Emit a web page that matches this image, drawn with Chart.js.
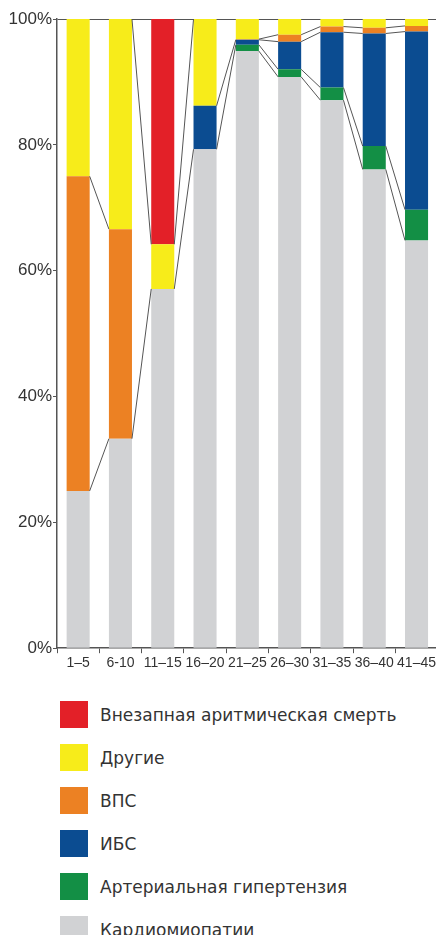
<!DOCTYPE html>
<html>
<head>
<meta charset="utf-8">
<script src="https://cdn.jsdelivr.net/npm/chart.js@4.4.1/dist/chart.umd.min.js"></script>
<style>
  body { margin: 0; background: #fff; overflow: hidden; font-family: "Liberation Sans", sans-serif; }
  #wrap { position: relative; width: 438px; height: 674px; }
  #legend { margin-top: 27px; }
  .row { display: flex; align-items: center; height: 27px; margin-bottom: 16px; }
  .sw { width: 28px; height: 27px; margin-left: 60px; margin-right: 12px; }
  .lb { font-family: "DejaVu Sans", sans-serif; font-size: 17px; color: #333; }
</style>
</head>
<body>
<div id="wrap"><canvas id="chart"></canvas></div>
<div id="legend"></div>
<script>
// age groups
const categories = ['1–5', '6-10', '11–15', '16–20', '21–25', '26–30', '31–35', '36–40', '41–45'];

// share of causes, %, bottom to top
const cardiomyopathy = [25, 33.3, 57.1, 79.3, 94.9, 90.8, 87.1, 76.1, 64.8];
const hypertension   = [0, 0, 0, 0, 1.0, 1.2, 2.0, 3.7, 4.9];
const ibs            = [0, 0, 0, 6.9, 0.8, 4.4, 8.8, 17.9, 28.3];
const vps            = [50, 33.3, 0, 0, 0.1, 1.1, 0.9, 0.9, 0.9];
const other          = [25, 33.4, 7.1, 13.8, 3.2, 2.5, 1.2, 1.4, 1.1];
const sudden         = [0, 0, 35.8, 0, 0, 0, 0, 0, 0];

const yTicks = [0, 20, 40, 60, 80, 100];

// which stack boundaries get a connector between neighbouring bars
// (k = top of the k-th series from the bottom)
const connectors = [[1, 4], [1, 5], [1, 5], [2, 3], [1, 2, 3, 4], [1, 2, 3, 4], [1, 2, 3, 4], [1, 2, 3, 4]];

const series = [
    { label: 'Кардиомиопатии', data: cardiomyopathy, color: '#d1d2d4' },
    { label: 'Артериальная гипертензия', data: hypertension, color: '#138f45' },
    { label: 'ИБС', data: ibs, color: '#0b4c91' },
    { label: 'ВПС', data: vps, color: '#ec8123' },
    { label: 'Другие', data: other, color: '#f7ec1a' },
    { label: 'Внезапная аритмическая смерть', data: sudden, color: '#e32028' }
];

const connectorPlugin = {
    id: 'connectors',
    afterDatasetsDraw(chart) {
        const ctx = chart.ctx;
        const y = chart.scales.y;
        const bars = chart.getDatasetMeta(0).data;
        ctx.save();
        ctx.strokeStyle = '#555';
        ctx.lineWidth = 1;
        connectors.forEach((ks, i) => {
            const a = bars[i], b = bars[i + 1];
            ks.forEach(k => {
                let c1 = 0, c2 = 0;
                for (let s = 0; s < k; s++) {
                    c1 += series[s].data[i];
                    c2 += series[s].data[i + 1];
                }
                ctx.beginPath();
                ctx.moveTo(a.x + a.width / 2, y.getPixelForValue(c1));
                ctx.lineTo(b.x - b.width / 2, y.getPixelForValue(c2));
                ctx.stroke();
            });
        });
        ctx.restore();
    }
};

new Chart(document.getElementById('chart'), {
    type: 'bar',
    data: {
        labels: categories,
        datasets: series.map(s => ({
            label: s.label,
            data: s.data,
            backgroundColor: s.color,
            borderWidth: 0,
            categoryPercentage: 1,
            barPercentage: 0.545
        }))
    },
    options: {
        responsive: true,
        maintainAspectRatio: false,
        animation: false,
        layout: { padding: { top: 19, right: 0, left: 0, bottom: 0 } },
        plugins: { legend: { display: false }, tooltip: { enabled: false } },
        scales: {
            x: {
                stacked: true,
                grid: { color: 'transparent', tickColor: '#555', tickLength: 5 },
                border: { color: '#555', width: 1.5 },
                ticks: { color: '#333', font: { size: 14, family: 'Liberation Sans' }, padding: 2, maxRotation: 0, autoSkip: false }
            },
            y: {
                stacked: true,
                min: 0,
                max: 100,
                afterBuildTicks: scale => { scale.ticks = yTicks.map(v => ({ value: v })); },
                afterFit: scale => { scale.width = 57; },
                grid: {
                    color: ctx => ctx.tick && ctx.tick.value === 100 ? '#555' : 'transparent',
                    tickColor: '#555',
                    tickLength: 4
                },
                border: { color: '#555', width: 1.5 },
                ticks: { color: '#333', font: { size: 17, family: 'Liberation Sans' }, padding: 1, callback: v => v + '%' }
            }
        }
    },
    plugins: [connectorPlugin]
});

// legend, top of the stack first
const legend = document.getElementById('legend');
series.slice().reverse().forEach(s => {
    const row = document.createElement('div');
    row.className = 'row';
    row.innerHTML = '<div class="sw" style="background:' + s.color + '"></div><span class="lb">' + s.label + '</span>';
    legend.appendChild(row);
});
</script>
</body>
</html>
